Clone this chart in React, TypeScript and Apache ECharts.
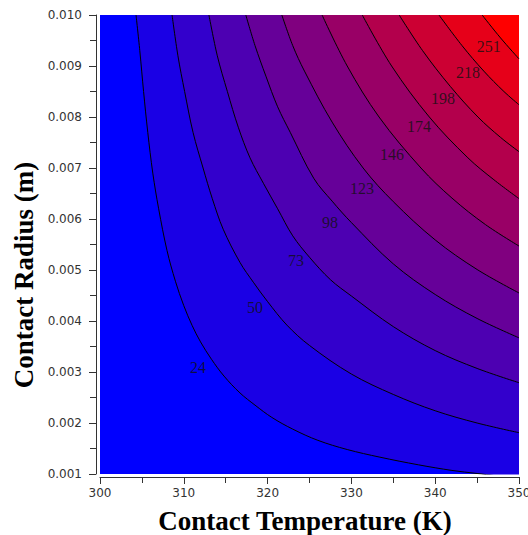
import React, { useEffect, useRef } from "react";
import * as echarts from "echarts";

// Contour levels (labels) and the contour lines: [T (K), radius (m)]
const contourLevels = [24, 50, 73, 98, 123, 146, 174, 198, 218, 251];

const c24 = [[304.3, 0.0100], [304.75, 0.0093], [305.2, 0.0085], [305.7, 0.0077], [306.3, 0.0069], [307.0, 0.0062], [308.0, 0.00538], [309.0, 0.00478], [310.0, 0.00430], [311.0, 0.00391], [312.0, 0.00359], [313.3, 0.00325], [314.8, 0.00292], [316.7, 0.00259], [318.5, 0.00235], [320.5, 0.00211], [323, 0.00188], [326, 0.00166], [329.5, 0.00148], [333.4, 0.00133], [338, 0.00118], [342, 0.00107], [345.0, 0.00101], [350, 0.00091]];
const c50 = [[308.6, 0.0100], [309.3, 0.0092], [310.1, 0.0085], [311.1, 0.0077], [312.3, 0.0070], [313.4, 0.0064], [314.7, 0.0058], [316.7, 0.00515], [318.3, 0.00476], [320, 0.00438], [322.3, 0.00392], [325, 0.00352], [330, 0.00296], [335, 0.00256], [340, 0.00224], [345, 0.00200], [350, 0.00181]];
const c73 = [[313.0, 0.0100], [314.0, 0.0092], [315.2, 0.0085], [316.5, 0.0078], [317.9, 0.0072], [319.5, 0.0067], [321.2, 0.0062], [323, 0.00567], [325, 0.00525], [327.5, 0.00481], [330, 0.00449], [335, 0.00389], [340, 0.00342], [345, 0.00307], [350, 0.00279]];
const c98 = [[317.4, 0.0100], [318.5, 0.0094], [319.8, 0.0088], [321.2, 0.0082], [322.7, 0.0077], [325.5, 0.0068], [327.7, 0.00635], [330, 0.00593], [335, 0.00512], [340, 0.00452], [345, 0.00405], [350, 0.00367]];
const c123 = [[321.7, 0.0100], [323.0, 0.0094], [324.4, 0.0089], [327.7, 0.0079], [331.4, 0.0070], [335, 0.00634], [340, 0.00559], [345, 0.00501], [350, 0.00455]];
const c146 = [[326.5, 0.0100], [329.5, 0.0090], [333.3, 0.0080], [338.3, 0.0070], [342, 0.00641], [346, 0.00589], [350, 0.00547]];
const c174 = [[331.3, 0.0100], [334.8, 0.0090], [339.3, 0.0080], [343.9, 0.0072], [347, 0.00677], [350, 0.00640]];
const c198 = [[335.7, 0.0100], [338.5, 0.0093], [341.8, 0.0086], [345.1, 0.0080], [347.8, 0.0076], [350, 0.00732]];
const c218 = [[340.45, 0.0100], [343.2, 0.0094], [345.8, 0.0089], [348.2, 0.0085], [350, 0.00824]];
const c251 = [[345.6, 0.0100], [347.8, 0.00955], [350, 0.00914]];

const contours = [c24, c50, c73, c98, c123, c146, c174, c198, c218, c251];

// Fill colour of the band below the first contour, then above each contour
const bandColors = ["#0000ff", "#1a00e5", "#3300cc", "#4d00b2", "#660099", "#80007f", "#990066", "#b3004c", "#cc0033", "#e60019", "#ff0000"];

// Contour label positions
const labelT = [311.7, 318.5, 323.4, 327.45, 331.26, 334.84, 338.07, 340.93, 343.9, 346.4];
const labelR = [0.00309, 0.00426, 0.00518, 0.00594, 0.00659, 0.00726, 0.00781, 0.00836, 0.00887, 0.00938];

const xTitle = "Contact Temperature (K)";
const yTitle = "Contact Radius (m)";

export default function App() {
  const ref = useRef<HTMLDivElement>(null);
  useEffect(() => {
    if (!ref.current) return;
    const chart = echarts.init(ref.current, null, { renderer: "svg" });
    const axisColor = "#333";
    const contourSeries = contours.map((pts, i) => ({
      type: "line",
      name: String(contourLevels[i]),
      data: pts,
      smooth: 0.35,
      symbol: "none",
      silent: true,
      clip: true,
      lineStyle: { color: "#000", width: 1 },
      areaStyle: { color: bandColors[i + 1], opacity: 1, origin: "end" },
      z: 2,
    }));
    const labelSeries = {
      type: "scatter",
      data: labelT.map((t, i) => [t, labelR[i], contourLevels[i]]),
      symbolSize: 1,
      itemStyle: { color: "rgba(0,0,0,0)" },
      silent: true,
      z: 5,
      label: {
        show: true,
        position: "inside",
        formatter: (p: any) => String(p.value[2]),
        color: "#111",
        fontFamily: "Liberation Serif",
        fontSize: 16,
      },
    };
    chart.setOption({
      animation: false,
      backgroundColor: "#fff",
      grid: {
        left: 100,
        right: 9,
        top: 15,
        bottom: 61,
        outerBoundsMode: "none",
        containLabel: false,
        show: true,
        backgroundColor: bandColors[0],
        borderWidth: 0,
      },
      xAxis: {
        type: "value",
        min: 300,
        max: 350,
        interval: 10,
        offset: 3,
        axisLine: { show: true, lineStyle: { color: axisColor, width: 1 } },
        axisTick: { show: true, length: 7, lineStyle: { color: axisColor } },
        minorTick: { show: true, splitNumber: 2, length: 6, lineStyle: { color: axisColor } },
        splitLine: { show: false },
        axisLabel: { color: axisColor, fontFamily: "DejaVu Sans", fontSize: 12, margin: 10 },
      },
      yAxis: {
        type: "value",
        min: 0.001,
        max: 0.010,
        interval: 0.001,
        offset: 4,
        axisLine: { show: true, lineStyle: { color: axisColor, width: 1 } },
        axisTick: { show: true, length: 7, lineStyle: { color: axisColor } },
        minorTick: { show: true, splitNumber: 2, length: 6, lineStyle: { color: axisColor } },
        splitLine: { show: false },
        axisLabel: {
          color: axisColor,
          fontFamily: "DejaVu Sans",
          fontSize: 12,
          margin: 14,
          formatter: (v: number) => v.toFixed(3),
        },
      },
      graphic: [
        {
          type: "text",
          x: 305,
          y: 521,
          style: {
            text: xTitle,
            font: "bold 27px 'Liberation Serif'",
            fill: "#000",
            textAlign: "center",
            textVerticalAlign: "middle",
          },
        },
        {
          type: "text",
          x: 24,
          y: 275,
          rotation: Math.PI / 2,
          style: {
            text: yTitle,
            font: "bold 27px 'Liberation Serif'",
            fill: "#000",
            textAlign: "center",
            textVerticalAlign: "middle",
          },
        },
      ],
      series: [...contourSeries, labelSeries],
    });
    return () => chart.dispose();
  }, []);
  return (
    <div
      ref={ref}
      style={{ position: "fixed", left: 0, top: 0, width: 528, height: 535 }}
    />
  );
}
